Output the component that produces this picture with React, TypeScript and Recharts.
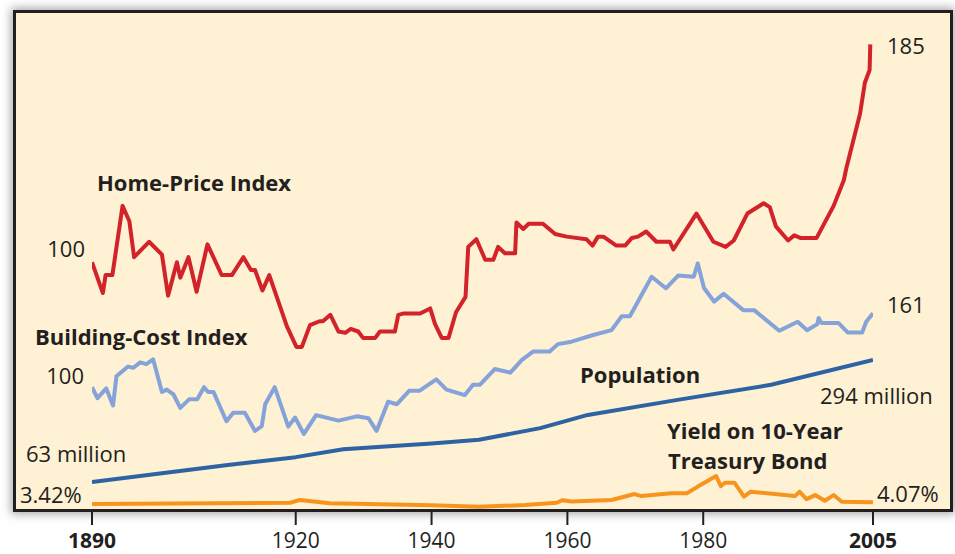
import { LineChart, Line, XAxis, YAxis } from 'recharts';

const FONT = '"Open Sans", "Noto Sans", sans-serif';

// Home-price index (1890 = 100)
const homeYears = [
  1890, 1891.6, 1892, 1893, 1894.5, 1895.5, 1896.2, 1898.4, 1900.3, 1901.2, 1902.5, 1903, 1904.2,
  1905.4, 1907, 1909.1, 1910.6, 1912.3, 1913.4, 1914, 1915.1, 1916.1, 1918.7, 1920.1, 1920.9,
  1922.1, 1923.5, 1924, 1925.1, 1926.3, 1927.3, 1928.1, 1929.2, 1929.9, 1931.7, 1932.4, 1934.6,
  1935.1, 1935.8, 1938.3, 1939.8, 1940.5, 1941.5, 1942.5, 1943.6, 1945, 1945.4, 1946.6, 1947.9,
  1949.1, 1949.8, 1950.8, 1952.3, 1952.5, 1953.5, 1954.3, 1956.4, 1958.2, 1959.9, 1962.8, 1963.7,
  1964.5, 1965.3, 1967.2, 1968.5, 1969.5, 1970.4, 1971.6, 1973.1, 1975.1, 1975.6, 1979, 1981.5,
  1983.3, 1984.5, 1986.5, 1988.9, 1989.8, 1990.7, 1992.5, 1993.4, 1994.3, 1996.7, 1999.2, 2000.7,
  2001.1, 2003.1, 2003.8, 2004.5, 2004.6,
];
const homeValues = [
  100, 88, 95, 95, 122, 116, 102, 108, 103, 87, 100, 94, 102,
  88.5, 107, 95, 95, 102, 97, 97, 89, 95, 75, 67, 67,
  75.5, 77, 77, 79.5, 73, 72.5, 74, 73, 70.5, 70.5, 73, 73,
  79.5, 80, 80, 82, 76, 70.5, 70.5, 80.5, 86.5, 106, 109, 101,
  101, 106, 103.5, 103.5, 115.5, 113, 115, 115, 111, 110, 109, 106.5,
  110, 110, 106.5, 106.5, 109.5, 110, 112, 108, 108, 105, 119, 108,
  106, 108.5, 119, 123, 121.5, 114, 108.5, 110.5, 109.5, 109.5, 122, 132,
  137, 158, 170, 175, 185,
];

// Building-cost index (1890 = 100)
const costYears = [
  1890, 1890.8, 1892.1, 1893.1, 1893.6, 1895.3, 1896.1, 1897.1, 1898, 1899, 1900.3, 1901, 1902,
  1903, 1904.3, 1905.5, 1906.5, 1907.1, 1907.9, 1909.8, 1910.8, 1912.5, 1914, 1915, 1915.5,
  1916.9, 1918.9, 1919.9, 1921.2, 1923, 1926.3, 1929, 1930.7, 1931.9, 1933.6, 1934.9, 1936.7,
  1938.2, 1940.7, 1942.2, 1944.9, 1946.1, 1947.1, 1949.3, 1951.6, 1953.3, 1955, 1957.4, 1958.6,
  1960.6, 1963.8, 1966.5, 1968, 1969.2, 1972.4, 1974.5, 1976.3, 1978.6, 1979.2, 1980.1, 1981.6,
  1983, 1985.9, 1987.5, 1991.2, 1993.9, 1995.3, 1996.8, 1997, 1997.4, 1999.9, 2001.3, 2003.4,
  2004, 2005,
];
const costValues = [
  100, 91, 99, 85, 109, 117, 116, 120.5, 119, 123, 96, 98, 94,
  83, 90, 90, 100, 96, 96, 72, 79, 79, 64, 68, 86,
  100, 67.5, 75, 61.5, 77, 72.5, 76, 74.5, 64, 88, 86, 97,
  97, 106.5, 98, 93.5, 102, 102, 115, 112, 122.5, 129.5, 129.5, 135.5,
  137.5, 143, 147, 158.5, 158.5, 191, 181.5, 192, 191, 202, 182, 170.5,
  177, 163.5, 163.5, 146.5, 154, 147, 152, 157, 153, 153, 145, 145,
  154, 161,
];

// U.S. population, millions
const popYears = [1890, 1900, 1910, 1920, 1927, 1940, 1947, 1956, 1963, 1976, 1990, 2005];
const popValues = [63, 79, 95, 110, 125, 136, 143, 165, 190, 218, 247, 294];

// Yield on 10-year Treasury bond, percent
const yieldYears = [
  1890, 1919.2, 1920.6, 1925, 1940, 1947, 1953.8, 1958.4, 1959.3, 1960.6, 1966.5, 1969.9, 1970.9,
  1975.3, 1977.6, 1979.2, 1981.9, 1982.6, 1983.2, 1984.6, 1986, 1987, 1993.5, 1994.2, 1995.2,
  1996.5, 1997.9, 1999.2, 2000.4, 2005,
];
const yieldValues = [
  3.42, 3.9, 5.0, 3.7, 2.9, 2.4, 3.0, 3.9, 4.9, 4.4, 5.0, 7.3, 6.5,
  7.6, 7.6, 10.2, 14.3, 10.4, 11.7, 11.7, 6.3, 8.2, 6.5, 8.2, 5.3,
  6.9, 4.7, 6.9, 4.3, 4.07,
];

const yearTicks = [1890, 1920, 1940, 1960, 1980, 2005];
const boldTicks = [1890, 2005];

const zip = (xs: number[], ys: number[]) => xs.map((year, i) => ({ year, v: ys[i] }));

const homeData = zip(homeYears, homeValues);
const costData = zip(costYears, costValues);
const popData = zip(popYears, popValues);
const yieldData = zip(yieldYears, yieldValues);

const last = (a: number[]) => a[a.length - 1];

function YearTick({ x, y, payload }: any) {
  const bold = boldTicks.includes(payload.value);
  return (
    <text
      x={x}
      y={y}
      dy="0.71em"
      textAnchor="middle"
      fill="#231F20"
      fontFamily={FONT}
      fontSize={21}
      fontWeight={bold ? 700 : 400}
    >
      {payload.value}
    </text>
  );
}

export default function App() {
  const txt = { fontFamily: FONT, fontSize: 22, fill: '#231F20' } as const;
  const bold = { ...txt, fontWeight: 700 } as const;

  return (
    <div style={{ position: 'absolute', left: 0, top: 0, width: 955, height: 554, background: '#fff' }}>
      <div
        style={{
          position: 'absolute',
          left: 13,
          top: 10,
          width: 940,
          height: 502,
          boxSizing: 'border-box',
          border: '3px solid #231F20',
          background: '#FEF1D4',
          boxShadow: '0 0 9px 2px rgba(0,0,0,0.35)',
        }}
      />
      <div style={{ position: 'absolute', left: 0, top: 0 }}>
        <LineChart width={955} height={554} margin={{ top: 11, right: 82, bottom: 3, left: 92 }}>
          <XAxis
            dataKey="year"
            type="number"
            domain={[1890, 2005]}
            allowDataOverflow
            ticks={yearTicks}
            height={40}
            axisLine={false}
            tickLine={{ stroke: '#231F20', strokeWidth: 2 }}
            tickSize={14}
            tickMargin={8}
            tick={<YearTick />}
          />
          <YAxis yAxisId="home" hide domain={[3, 198]} allowDataOverflow />
          <YAxis yAxisId="cost" hide domain={[-2, 410]} allowDataOverflow />
          <YAxis yAxisId="pop" hide domain={[8, 955]} allowDataOverflow />
          <YAxis yAxisId="yield" hide domain={[0.7, 195.3]} allowDataOverflow />
          <Line
            yAxisId="yield"
            data={yieldData}
            dataKey="v"
            stroke="#F7941D"
            strokeWidth={4}
            dot={false}
            strokeLinejoin="round"
            isAnimationActive={false}
          />
          <Line
            yAxisId="pop"
            data={popData}
            dataKey="v"
            stroke="#2D62A3"
            strokeWidth={4}
            dot={false}
            strokeLinejoin="round"
            isAnimationActive={false}
          />
          <Line
            yAxisId="cost"
            data={costData}
            dataKey="v"
            stroke="#85A3D8"
            strokeWidth={4}
            dot={false}
            strokeLinejoin="round"
            isAnimationActive={false}
          />
          <Line
            yAxisId="home"
            data={homeData}
            dataKey="v"
            stroke="#D2232A"
            strokeWidth={4}
            dot={false}
            strokeLinejoin="round"
            isAnimationActive={false}
          />
        </LineChart>
      </div>
      <svg
        width={955}
        height={554}
        style={{ position: 'absolute', left: 0, top: 0, pointerEvents: 'none' }}
      >
        <text x={97} y={191} {...bold}>Home-Price Index</text>
        <text x={85} y={257} textAnchor="end" {...txt}>{homeValues[0]}</text>
        <text x={887} y={54} {...txt}>{last(homeValues)}</text>

        <text x={35} y={345} {...bold}>Building-Cost Index</text>
        <text x={84} y={384} textAnchor="end" {...txt}>{costValues[0]}</text>
        <text x={887} y={313} {...txt}>{last(costValues)}</text>

        <text x={580} y={383} {...bold}>Population</text>
        <text x={26} y={462} {...txt}>{popValues[0]} million</text>
        <text x={820} y={404} {...txt}>{last(popValues)} million</text>

        <text x={667} y={439} {...bold}>Yield on 10-Year</text>
        <text x={668} y={469} {...bold}>Treasury Bond</text>
        <text x={20} y={503} {...txt}>{yieldValues[0].toFixed(2)}%</text>
        <text x={877} y={502} {...txt}>{last(yieldValues).toFixed(2)}%</text>
      </svg>
    </div>
  );
}
